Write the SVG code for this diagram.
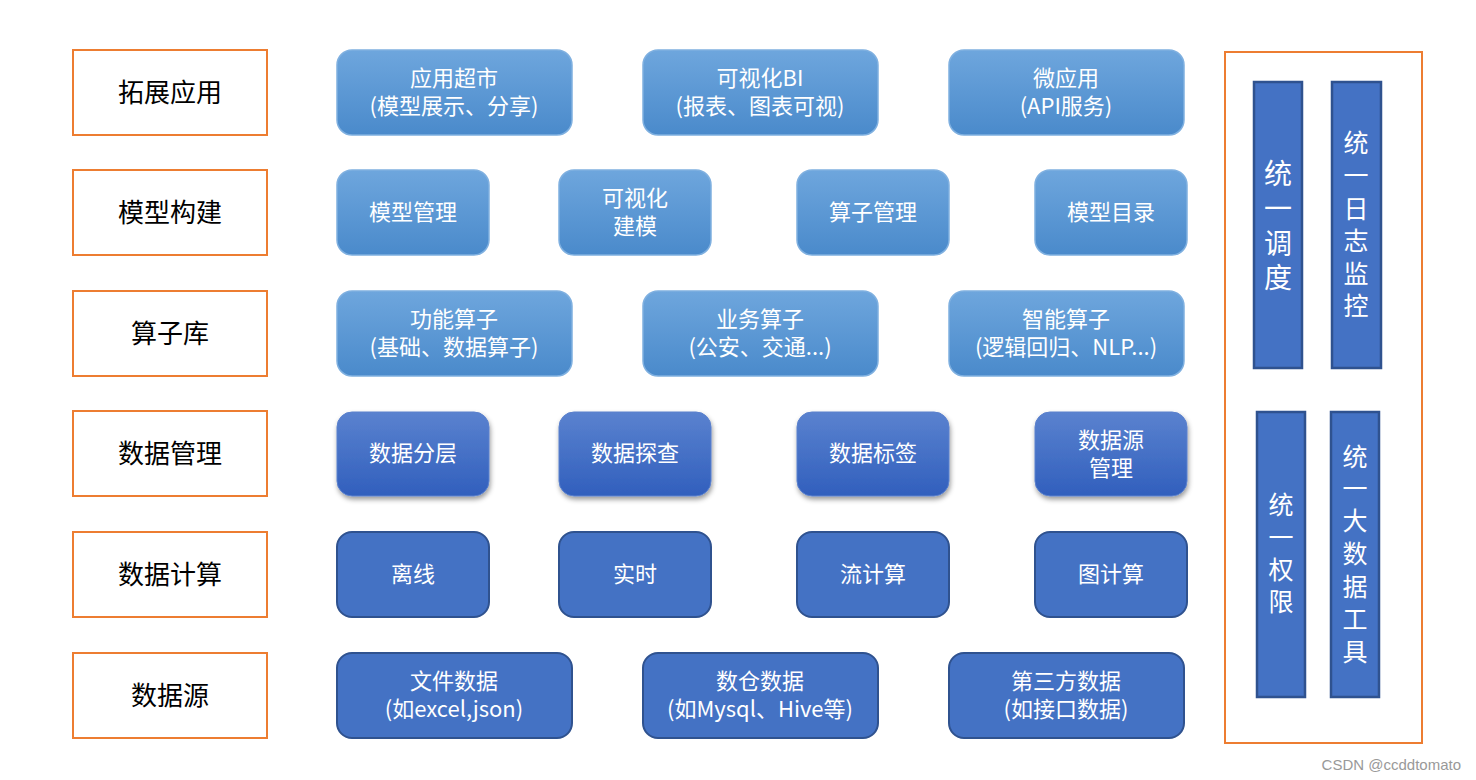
<svg xmlns="http://www.w3.org/2000/svg" width="1476" height="780" viewBox="0 0 1476 780">
<defs>
<linearGradient id="gLight" x1="0" y1="0" x2="0" y2="1">
<stop offset="0" stop-color="#6ea6dd"/>
<stop offset="1" stop-color="#4a8acb"/>
</linearGradient>
<linearGradient id="gMid" x1="0" y1="0" x2="0" y2="1">
<stop offset="0" stop-color="#5a82cf"/>
<stop offset="1" stop-color="#315fbd"/>
</linearGradient>
<filter id="sh" x="-10%" y="-10%" width="125%" height="130%">
<feDropShadow dx="1" dy="3" stdDeviation="2.5" flood-color="#000" flood-opacity="0.4"/>
</filter>
</defs>
<style>
.cat{fill:#fff;stroke:#ED7D31;stroke-width:2}
.catT{font-family:"Noto Sans CJK SC","Noto Sans",sans-serif;font-size:26px;fill:#000;text-anchor:middle;dominant-baseline:central}
.lb{fill:url(#gLight);stroke:#7fb0e0;stroke-width:1.5}
.mb{fill:url(#gMid);stroke:#5a80cc;stroke-width:1;filter:url(#sh)}
.db{fill:#4472C4;stroke:#2F528F;stroke-width:2}
.t{font-family:"Noto Sans CJK SC","Noto Sans",sans-serif;font-size:22px;fill:#fff;text-anchor:middle;dominant-baseline:central}
.bar{fill:#4472C4;stroke:#2F528F;stroke-width:2.5}
.vt{font-family:"Noto Sans CJK SC","Noto Sans",sans-serif;font-size:25px;fill:#fff;text-anchor:middle;dominant-baseline:central}
.vt1{font-family:"Noto Sans CJK SC","Noto Sans",sans-serif;font-size:28px;fill:#fff;text-anchor:middle;dominant-baseline:central}
</style>
<g id="cat-1"><rect class="cat" x="73" y="50" width="194" height="85"/><text class="catT" x="170" y="90">拓展应用</text></g>
<g id="cat-2"><rect class="cat" x="73" y="170" width="194" height="85"/><text class="catT" x="170" y="210">模型构建</text></g>
<g id="cat-3"><rect class="cat" x="73" y="291" width="194" height="85"/><text class="catT" x="170" y="331">算子库</text></g>
<g id="cat-4"><rect class="cat" x="73" y="411" width="194" height="85"/><text class="catT" x="170" y="451">数据管理</text></g>
<g id="cat-5"><rect class="cat" x="73" y="532" width="194" height="85"/><text class="catT" x="170" y="572">数据计算</text></g>
<g id="cat-6"><rect class="cat" x="73" y="653" width="194" height="85"/><text class="catT" x="170" y="693">数据源</text></g>

<g id="n-app-market"><rect class="lb" x="337" y="50" width="235" height="85" rx="15"/><text class="t"><tspan x="454" y="76">应用超市</tspan><tspan x="454" y="104">(模型展示、分享)</tspan></text></g>
<g id="n-bi"><rect class="lb" x="643" y="50" width="235" height="85" rx="15"/><text class="t"><tspan x="760" y="76">可视化BI</tspan><tspan x="760" y="104">(报表、图表可视)</tspan></text></g>
<g id="n-micro"><rect class="lb" x="949" y="50" width="235" height="85" rx="15"/><text class="t"><tspan x="1066" y="76">微应用</tspan><tspan x="1066" y="104">(API服务)</tspan></text></g>

<g id="n-model-mgmt"><rect class="lb" x="337" y="170" width="152" height="85" rx="15"/><text class="t" x="413" y="210">模型管理</text></g>
<g id="n-vis-model"><rect class="lb" x="559" y="170" width="152" height="85" rx="15"/><text class="t"><tspan x="635" y="196">可视化</tspan><tspan x="635" y="224">建模</tspan></text></g>
<g id="n-op-mgmt"><rect class="lb" x="797" y="170" width="152" height="85" rx="15"/><text class="t" x="873" y="210">算子管理</text></g>
<g id="n-model-cat"><rect class="lb" x="1035" y="170" width="152" height="85" rx="15"/><text class="t" x="1111" y="210">模型目录</text></g>

<g id="n-func-op"><rect class="lb" x="337" y="291" width="235" height="85" rx="15"/><text class="t"><tspan x="454" y="317">功能算子</tspan><tspan x="454" y="345">(基础、数据算子)</tspan></text></g>
<g id="n-biz-op"><rect class="lb" x="643" y="291" width="235" height="85" rx="15"/><text class="t"><tspan x="760" y="317">业务算子</tspan><tspan x="760" y="345">(公安、交通...)</tspan></text></g>
<g id="n-ai-op"><rect class="lb" x="949" y="291" width="235" height="85" rx="15"/><text class="t"><tspan x="1066" y="317">智能算子</tspan><tspan x="1066" y="345">(逻辑回归、NLP...)</tspan></text></g>

<g id="n-layer"><rect class="mb" x="337" y="412" width="152" height="84" rx="15"/><text class="t" x="413" y="451">数据分层</text></g>
<g id="n-explore"><rect class="mb" x="559" y="412" width="152" height="84" rx="15"/><text class="t" x="635" y="451">数据探查</text></g>
<g id="n-tag"><rect class="mb" x="797" y="412" width="152" height="84" rx="15"/><text class="t" x="873" y="451">数据标签</text></g>
<g id="n-src-mgmt"><rect class="mb" x="1035" y="412" width="152" height="84" rx="15"/><text class="t"><tspan x="1111" y="438">数据源</tspan><tspan x="1111" y="466">管理</tspan></text></g>

<g id="n-offline"><rect class="db" x="337" y="532" width="152" height="85" rx="15"/><text class="t" x="413" y="572">离线</text></g>
<g id="n-realtime"><rect class="db" x="559" y="532" width="152" height="85" rx="15"/><text class="t" x="635" y="572">实时</text></g>
<g id="n-stream"><rect class="db" x="797" y="532" width="152" height="85" rx="15"/><text class="t" x="873" y="572">流计算</text></g>
<g id="n-graph"><rect class="db" x="1035" y="532" width="152" height="85" rx="15"/><text class="t" x="1111" y="572">图计算</text></g>

<g id="n-file"><rect class="db" x="337" y="653" width="235" height="85" rx="15"/><text class="t"><tspan x="454" y="679">文件数据</tspan><tspan x="454" y="707">(如excel,json)</tspan></text></g>
<g id="n-dw"><rect class="db" x="643" y="653" width="235" height="85" rx="15"/><text class="t"><tspan x="760" y="679">数仓数据</tspan><tspan x="760" y="707">(如Mysql、Hive等)</tspan></text></g>
<g id="n-third"><rect class="db" x="949" y="653" width="235" height="85" rx="15"/><text class="t"><tspan x="1066" y="679">第三方数据</tspan><tspan x="1066" y="707">(如接口数据)</tspan></text></g>

<g id="side-panel"><rect class="cat" x="1225" y="52" width="197" height="691"/></g>
<g id="bar-schedule"><rect class="bar" x="1254" y="82" width="48" height="286"/>
<text class="vt1"><tspan x="1278" y="172">统</tspan><tspan x="1278" y="207">一</tspan><tspan x="1278" y="242">调</tspan><tspan x="1278" y="276">度</tspan></text></g>
<g id="bar-log"><rect class="bar" x="1332" y="82" width="49" height="286"/>
<text class="vt"><tspan x="1356" y="141">统</tspan><tspan x="1356" y="174">一</tspan><tspan x="1356" y="207">日</tspan><tspan x="1356" y="239">志</tspan><tspan x="1356" y="272">监</tspan><tspan x="1356" y="304">控</tspan></text></g>
<g id="bar-auth"><rect class="bar" x="1257" y="412" width="48" height="285"/>
<text class="vt"><tspan x="1281" y="503">统</tspan><tspan x="1281" y="536">一</tspan><tspan x="1281" y="568">权</tspan><tspan x="1281" y="600">限</tspan></text></g>
<g id="bar-tools"><rect class="bar" x="1331" y="412" width="48" height="285"/>
<text class="vt"><tspan x="1355" y="455">统</tspan><tspan x="1355" y="487">一</tspan><tspan x="1355" y="519">大</tspan><tspan x="1355" y="552">数</tspan><tspan x="1355" y="585">据</tspan><tspan x="1355" y="618">工</tspan><tspan x="1355" y="650">具</tspan></text></g>

<g id="connectors"></g>
<text x="1461" y="770" text-anchor="end" font-family="Liberation Sans, Arial, sans-serif" font-size="15" fill="#999">CSDN @ccddtomato</text>
</svg>
